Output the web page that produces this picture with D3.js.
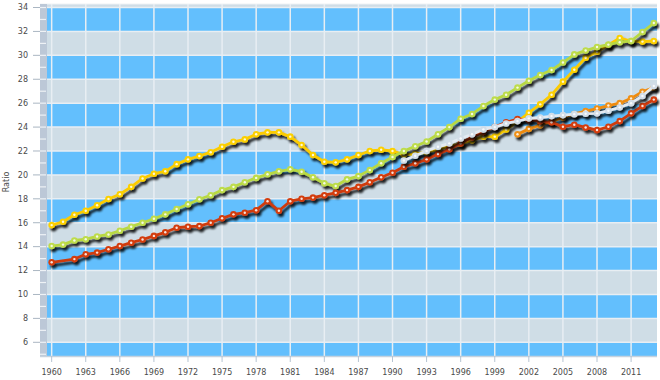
<!DOCTYPE html>
<html><head><meta charset="utf-8">
<script src="https://cdn.jsdelivr.net/npm/d3@7"></script>
<style>body{margin:0;background:#fff}svg{display:block}</style>
</head><body><svg id="c" width="660" height="380"></svg>
<script>
const years = [1960,1961,1962,1963,1964,1965,1966,1967,1968,1969,
  1970,1971,1972,1973,1974,1975,1976,1977,1978,1979,
  1980,1981,1982,1983,1984,1985,1986,1987,1988,1989,
  1990,1991,1992,1993,1994,1995,1996,1997,1998,1999,
  2000,2001,2002,2003,2004,2005,2006,2007,2008,2009,
  2010,2011,2012,2013];

const yellowSeries = [15.8,16.08,16.67,17.0,17.46,17.99,18.38,19.0,19.7,20.1,
  20.3,20.9,21.3,21.58,21.9,22.35,22.77,22.97,23.4,23.56,
  23.56,23.2,22.5,21.66,21.1,21.05,21.3,21.66,22.0,22.1,
  22.0,21.7,21.75,21.9,22.1,22.4,22.6,22.9,23.2,23.2,
  23.8,24.45,25.2,25.9,26.7,27.8,28.8,29.8,30.3,30.86,
  31.45,31.2,31.15,31.2];

const greenSeries = [14.05,14.17,14.52,14.62,14.85,15.02,15.33,15.67,16.0,16.33,
  16.7,17.15,17.54,17.96,18.3,18.73,19.0,19.38,19.75,20.05,
  20.3,20.47,20.27,19.8,19.3,19.07,19.63,19.9,20.4,20.97,
  21.5,22.0,22.4,22.8,23.4,24.0,24.7,25.1,25.76,26.3,
  26.7,27.3,27.87,28.35,28.77,29.4,30.08,30.4,30.7,30.9,
  31.1,31.2,31.95,32.7];

const redSeries = [12.69,null,12.96,13.36,13.5,13.78,14.05,14.33,14.6,14.9,
  15.2,15.58,15.67,15.72,16.0,16.37,16.7,16.84,17.05,17.8,
  17.0,17.8,18.0,18.1,18.3,18.5,18.73,19.0,19.38,19.8,
  20.18,20.68,20.97,21.3,21.75,22.14,22.64,23.15,23.6,24.0,
  24.4,24.67,24.6,24.5,24.4,24.03,24.2,23.97,23.75,24.03,
  24.5,25.15,25.76,26.3];

const whiteSeries = [null,null,null,null,null,null,null,null,null,null,
  null,null,null,null,null,null,null,null,null,null,
  null,null,null,null,null,null,null,null,null,null,
  null,21.2,21.6,22.0,22.35,22.64,23.05,23.4,23.8,24.0,
  24.3,24.5,24.73,24.8,24.92,25.0,25.08,25.12,25.15,25.37,
  25.65,26.0,26.6,27.43];

const orangeSeries = [null,null,null,null,null,null,null,null,null,null,
  null,null,null,null,null,null,null,null,null,null,
  null,null,null,null,null,null,null,null,null,null,
  null,null,null,null,null,null,null,null,null,null,
  null,23.4,23.85,24.15,24.45,24.8,25.1,25.34,25.55,25.8,
  26.0,26.4,26.95,27.3];

const xTickLabels = [1960,1963,1966,1969,1972,1975,1978,1981,1984,1987,1990,1993,1996,1999,2002,2005,2008,2011];
const yTickLabels = [6,8,10,12,14,16,18,20,22,24,26,28,30,32,34];
const yAxisTitle = "Ratio";

const seriesList = [
  {name:"yellow", values:yellowSeries, color:"#fccb00", marker:"#fcd000"},
  {name:"green", values:greenSeries, color:"#b8d843", marker:"#bedc4c"},
  {name:"orange", values:orangeSeries, color:"#ef8a0c", marker:"#f09016"},
  {name:"red", values:redSeries, color:"#cf3a0c", marker:"#d43e10"},
  {name:"white", values:whiteSeries, color:"#e3eaf1", marker:"#d2dde8"}
];

const svg = d3.select("#c");
const L = 47, R = 657, T = 4, B = 356, stripL = 40;

const x = d3.scaleLinear().domain([1959.59, 2013.28]).range([L, R]);
const y = d3.scaleLinear().domain([4.854, 34.294]).range([B, T]);

const defs = svg.append("defs");
defs.append("clipPath").attr("id","plotclip").append("rect")
  .attr("x", L).attr("y", T).attr("width", R - L).attr("height", B - T);
const f = defs.append("filter").attr("id","shadow")
  .attr("x","-10%").attr("y","-10%").attr("width","120%").attr("height","130%");
f.append("feDropShadow").attr("dx",2).attr("dy",3).attr("stdDeviation",1.3)
  .attr("flood-color","#000").attr("flood-opacity",0.85);

// bands
const bandG = svg.append("g").attr("clip-path","url(#plotclip)");
const bandStarts = d3.range(4, 36, 2);
bandG.selectAll("rect").data(bandStarts).enter().append("rect")
  .attr("x", L).attr("width", R - L)
  .attr("y", d => y(d + 2)).attr("height", d => y(d) - y(d + 2))
  .attr("fill", d => ((d / 2) % 2 === 0) ? "#63bffd" : "#cfdde6");

// gridlines
bandG.selectAll("line.h").data(yTickLabels).enter().append("line")
  .attr("x1", L).attr("x2", R).attr("y1", d => y(d)).attr("y2", d => y(d))
  .attr("stroke","#e8eef3").attr("stroke-width",1.5);
bandG.selectAll("line.v").data(xTickLabels).enter().append("line")
  .attr("y1", T).attr("y2", B).attr("x1", d => x(d)).attr("x2", d => x(d))
  .attr("stroke","#e8eef3").attr("stroke-width",1.5);
// top white edge
svg.append("line").attr("x1",stripL).attr("x2",R).attr("y1",T).attr("y2",T)
  .attr("stroke","#eef2f5").attr("stroke-width",1);

// left strip
svg.append("rect").attr("x", stripL).attr("y", T).attr("width", L - stripL).attr("height", B - T)
  .attr("fill","#bcc8d7");
const minor = d3.range(5, 35, 1);
svg.selectAll("line.minor").data(minor).enter().append("line")
  .attr("x1", stripL).attr("x2", L - 1).attr("y1", d => y(d)).attr("y2", d => y(d))
  .attr("stroke","#eef2f6").attr("stroke-width",1.2);

// y ticks and labels
svg.selectAll("line.yt").data(yTickLabels).enter().append("line")
  .attr("x1", 33).attr("x2", stripL).attr("y1", d => y(d)).attr("y2", d => y(d))
  .attr("stroke","#aab6c2").attr("stroke-width",1);
svg.selectAll("text.yl").data(yTickLabels).enter().append("text")
  .attr("x", 28).attr("y", d => y(d)).attr("dy","0.35em")
  .attr("text-anchor","end").attr("font-family","DejaVu Sans, sans-serif")
  .attr("font-size",8).attr("fill","#4a4a4a").text(d => d);

// x axis
svg.append("line").attr("x1", stripL).attr("x2", R).attr("y1", B + 0.5).attr("y2", B + 0.5)
  .attr("stroke","#c6d2de").attr("stroke-width",1.5);
svg.selectAll("line.xt").data(xTickLabels).enter().append("line")
  .attr("x1", d => x(d)).attr("x2", d => x(d)).attr("y1", B).attr("y2", B + 6)
  .attr("stroke","#b6c4d2").attr("stroke-width",1);
svg.selectAll("text.xl").data(xTickLabels).enter().append("text")
  .attr("x", d => x(d)).attr("y", 375)
  .attr("text-anchor","middle").attr("font-family","DejaVu Sans, sans-serif")
  .attr("font-size",8).attr("fill","#4a4a4a").text(d => d);

svg.append("text").attr("transform","translate(9,182) rotate(-90)")
  .attr("text-anchor","middle").attr("font-family","DejaVu Sans, sans-serif")
  .attr("font-size",8).attr("fill","#4a4a4a").text(yAxisTitle);

// series
const line = d3.line().x(d => x(d.year)).y(d => y(d.v));
const seriesG = svg.append("g");
seriesList.forEach(s => {
  const pts = years.map((yr, i) => ({year: yr, v: s.values[i]})).filter(d => d.v !== null);
  const g = seriesG.append("g").attr("filter","url(#shadow)");
  g.append("path").datum(pts).attr("d", line).attr("fill","none")
    .attr("stroke", s.color).attr("stroke-width",2.8).attr("stroke-linejoin","round");
  g.selectAll("circle.m").data(pts).enter().append("circle")
    .attr("cx", d => x(d.year)).attr("cy", d => y(d.v)).attr("r",3.3)
    .attr("fill", s.marker);
  g.selectAll("circle.c").data(pts).enter().append("circle")
    .attr("cx", d => x(d.year)).attr("cy", d => y(d.v)).attr("r",1.2)
    .attr("fill","#ffffff").attr("fill-opacity",0.85);
});
</script></body></html>
